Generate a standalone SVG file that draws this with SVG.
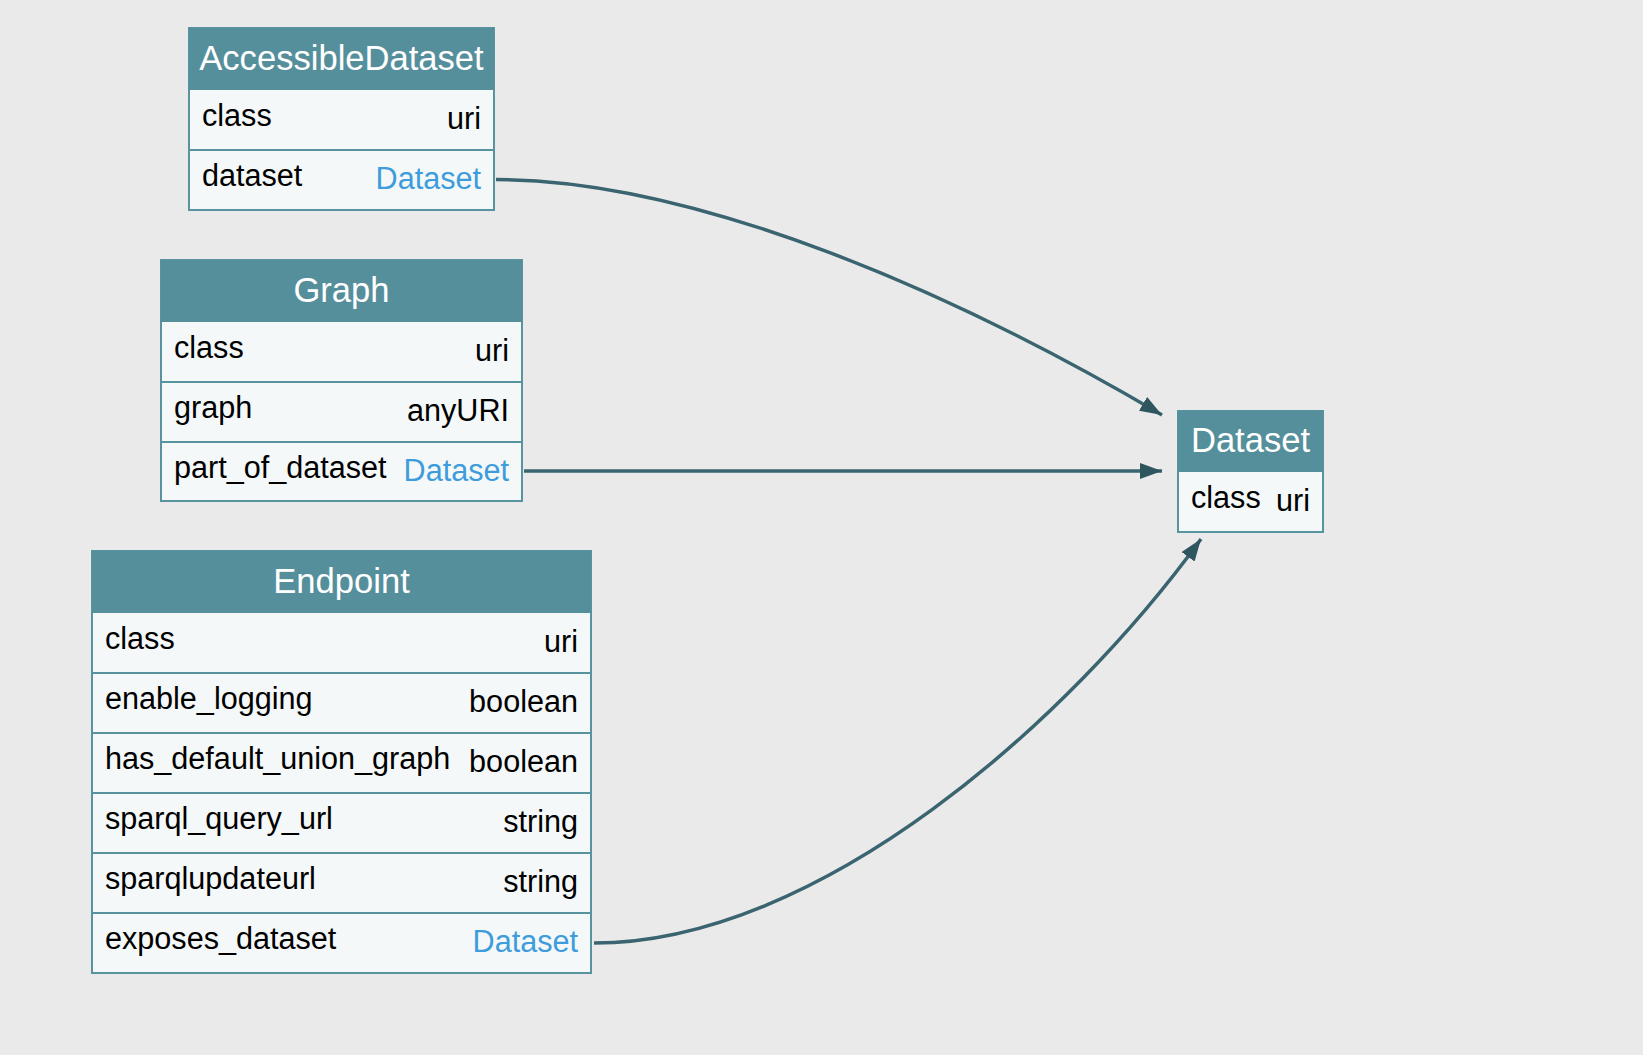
<svg xmlns="http://www.w3.org/2000/svg" width="1643" height="1055" viewBox="0 0 1643 1055">
<style>
.bg{fill:#eaeaea}
.box{fill:#f5f8f8;stroke:#5893a0;stroke-width:2}
.hdr{fill:#558f9c}
.sep{stroke:#5893a0;stroke-width:2}
.title{font-family:"Liberation Sans",Arial,sans-serif;font-size:34.6px;fill:#ffffff;text-anchor:middle}
.k{font-family:"Liberation Sans",Arial,sans-serif;font-size:30.6px;fill:#000000}
.v{font-family:"Liberation Sans",Arial,sans-serif;font-size:30.6px;fill:#000000;text-anchor:end}
.lnk{fill:#3d9cdb}
.edge{fill:none;stroke:#3a6470;stroke-width:3.5}
</style>
<defs>
<marker id="arr" markerUnits="userSpaceOnUse" markerWidth="24" markerHeight="16" refX="22" refY="8" orient="auto">
<path d="M0,0 L22,8 L0,16 Z" fill="#2f555f"/>
</marker>
</defs>
<rect class="bg" x="0" y="0" width="1643" height="1055"/>

<g id="connectors">
<path class="edge" d="M496,179.5 C700,179.5 960,296 1162,415" marker-end="url(#arr)"/>
<path class="edge" d="M524,471 L1162,471" marker-end="url(#arr)"/>
<path class="edge" d="M594,943 C820,943 1070,720 1201,539" marker-end="url(#arr)"/>
</g>

<g id="AccessibleDataset">
<rect class="box" x="189" y="28" width="305" height="182"/>
<rect class="hdr" x="189" y="28" width="305" height="62"/>
<line class="sep" x1="189" y1="150" x2="494" y2="150"/>
<text class="title" x="341.5" y="70">AccessibleDataset</text>
<text class="k" x="202" y="126">class</text>
<text class="v" x="481" y="129">uri</text>
<text class="k" x="202" y="186">dataset</text>
<text class="v lnk" x="481" y="188.5">Dataset</text>
</g>

<g id="Graph">
<rect class="box" x="161" y="260" width="361" height="241"/>
<rect class="hdr" x="161" y="260" width="361" height="62"/>
<line class="sep" x1="161" y1="382" x2="522" y2="382"/>
<line class="sep" x1="161" y1="442" x2="522" y2="442"/>
<text class="title" x="341.5" y="302">Graph</text>
<text class="k" x="174" y="358">class</text>
<text class="v" x="509" y="361">uri</text>
<text class="k" x="174" y="418">graph</text>
<text class="v" x="509" y="421">anyURI</text>
<text class="k" x="174" y="478">part_of_dataset</text>
<text class="v lnk" x="509" y="480.5">Dataset</text>
</g>

<g id="Endpoint">
<rect class="box" x="92" y="551" width="499" height="422"/>
<rect class="hdr" x="92" y="551" width="499" height="62"/>
<line class="sep" x1="92" y1="673" x2="591" y2="673"/>
<line class="sep" x1="92" y1="733" x2="591" y2="733"/>
<line class="sep" x1="92" y1="793" x2="591" y2="793"/>
<line class="sep" x1="92" y1="853" x2="591" y2="853"/>
<line class="sep" x1="92" y1="913" x2="591" y2="913"/>
<text class="title" x="341.5" y="593">Endpoint</text>
<text class="k" x="105" y="649">class</text>
<text class="v" x="578" y="652">uri</text>
<text class="k" x="105" y="709">enable_logging</text>
<text class="v" x="578" y="712">boolean</text>
<text class="k" x="105" y="769">has_default_union_graph</text>
<text class="v" x="578" y="772">boolean</text>
<text class="k" x="105" y="829">sparql_query_url</text>
<text class="v" x="578" y="832">string</text>
<text class="k" x="105" y="889">sparqlupdateurl</text>
<text class="v" x="578" y="892">string</text>
<text class="k" x="105" y="949">exposes_dataset</text>
<text class="v lnk" x="578" y="951.5">Dataset</text>
</g>

<g id="Dataset">
<rect class="box" x="1178" y="411" width="145" height="121"/>
<rect class="hdr" x="1178" y="411" width="145" height="61"/>
<text class="title" x="1250.5" y="452">Dataset</text>
<text class="k" x="1191" y="508">class</text>
<text class="v" x="1310" y="511">uri</text>
</g>
</svg>
